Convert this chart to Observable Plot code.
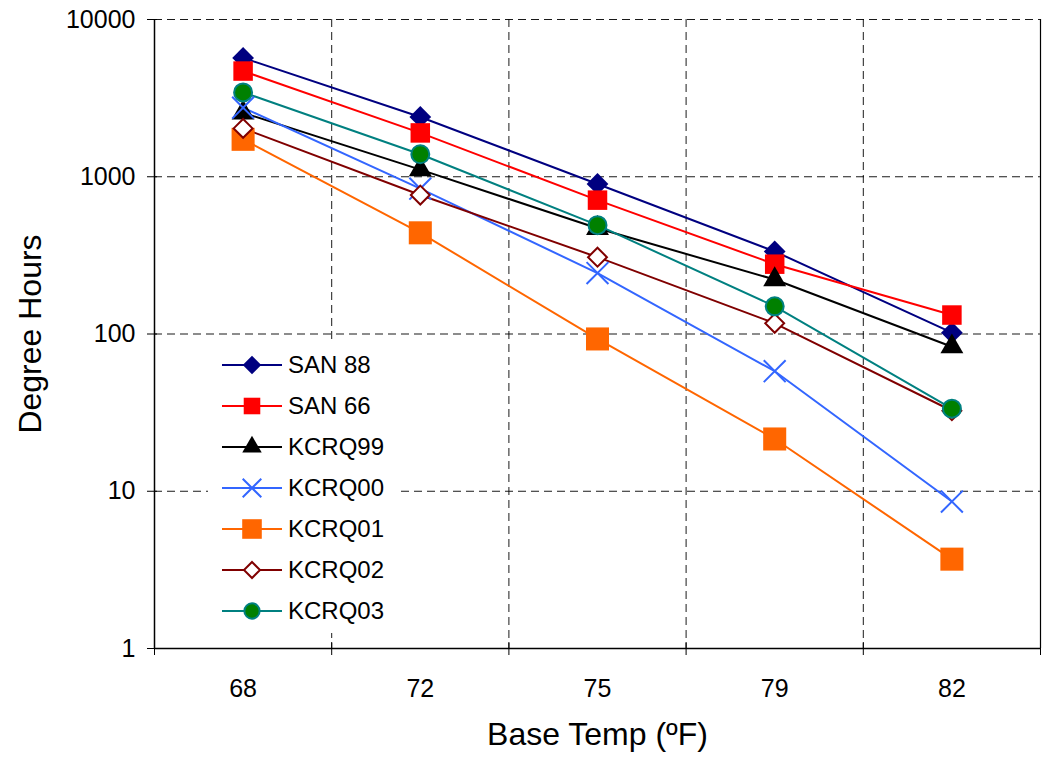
<!DOCTYPE html>
<html>
<head>
<meta charset="utf-8">
<script src="https://cdn.jsdelivr.net/npm/d3@7"></script>
<script src="https://cdn.jsdelivr.net/npm/@observablehq/plot@0.6"></script>
<style>
  html, body { margin: 0; padding: 0; background: #fff; }
  #wrap { position: relative; width: 1044px; height: 757px; font-family: "Liberation Sans", Arial, sans-serif; }
  #legend { position: absolute; left: 0; top: 0; }
</style>
</head>
<body>
<div id="wrap"></div>
<script>
const temps = ["68", "72", "75", "79", "82"];
const yTicks = [1, 10, 100, 1000, 10000];
const seriesNames = ["SAN 88", "SAN 66", "KCRQ99", "KCRQ00", "KCRQ01", "KCRQ02", "KCRQ03"];
const san88  = [5700, 2400, 900, 335, 102];
const san66  = [4700, 1900, 710, 278, 132];
const kcrq99 = [2550, 1110, 470, 222, 83];
const kcrq00 = [2750, 840, 244, 58, 8.6];
const kcrq01 = [1730, 440, 93, 21.5, 3.7];
const kcrq02 = [2030, 765, 308, 117, 32.5];
const kcrq03 = [3440, 1390, 492, 150, 33.5];
const seriesValues = [san88, san66, kcrq99, kcrq00, kcrq01, kcrq02, kcrq03];

const styles = [
  {line: "#000080", symbol: "diamond2", r: 9.8, fill: "#000080", stroke: "none", sw: 0},
  {line: "#FF0000", symbol: "square",   r: 11,  fill: "#FF0000", stroke: "none", sw: 0},
  {line: "#000000", symbol: "triangle", r: 8.5, fill: "#000000", stroke: "none", sw: 0},
  {line: "#3366FF", symbol: "times",    r: 10,  fill: "none",    stroke: "#3366FF", sw: 2},
  {line: "#FF6600", symbol: "square",   r: 13,  fill: "#FF6600", stroke: "none", sw: 0},
  {line: "#800000", symbol: "diamond2", r: 8.5, fill: "#FFFFFF", stroke: "#800000", sw: 2},
  {line: "#008080", symbol: "circle",   r: 9,   fill: "#008000", stroke: "#008080", sw: 2}
];

const rows = seriesNames.map((name, s) => seriesValues[s].map((v, i) => ({name, i, v})));

const boundaries = d3.range(temps.length + 1).map(i => i - 0.5);
const inner = boundaries.slice(1, -1);

const marks = [
  Plot.gridY(yTicks.slice(1), {stroke: "#000", strokeOpacity: 0.9, strokeDasharray: "8,5", strokeWidth: 1}),
  Plot.gridX(inner, {stroke: "#000", strokeOpacity: 0.9, strokeDasharray: "8,5", strokeWidth: 1}),
  Plot.ruleX([boundaries[boundaries.length - 1]], {stroke: "#000", strokeWidth: 1.2}),
  Plot.ruleX([boundaries[0]], {stroke: "#000", strokeWidth: 1.5}),
  Plot.ruleY([yTicks[0]], {stroke: "#000", strokeWidth: 1.5}),
  Plot.axisY({ticks: yTicks, tickSize: 10, dx: 3, tickFormat: () => "", stroke: "#000", label: null}),
  Plot.axisY({ticks: yTicks, tickSize: 0, tickPadding: 19, tickFormat: d => String(d), fontSize: 25, fill: "#000", label: null}),
  Plot.axisX({ticks: boundaries, tickSize: 13, dy: -6, tickFormat: () => "", stroke: "#000", label: null}),
  Plot.axisX({ticks: d3.range(temps.length), tickSize: 0, tickPadding: 31, tickFormat: i => temps[i], fontSize: 25, fill: "#000", label: null})
];

rows.forEach((data, s) => {
  const st = styles[s];
  marks.push(Plot.line(data, {x: "i", y: "v", stroke: st.line, strokeWidth: 2}));
});
rows.forEach((data, s) => {
  const st = styles[s];
  marks.push(Plot.dot(data, {x: "i", y: "v", symbol: st.symbol, r: st.r, fill: st.fill, stroke: st.stroke, strokeWidth: st.sw}));
});

marks.push(Plot.text(["Degree Hours"], {frameAnchor: "left", textAnchor: "middle", dx: -124, rotate: -90, fontSize: 32, fill: "#000"}));
marks.push(Plot.text(["Base Temp (ºF)"], {frameAnchor: "bottom", dy: 96, fontSize: 32, fill: "#000"}));

const chart = Plot.plot({
  width: 1044,
  height: 757,
  marginLeft: 154,
  marginRight: 4,
  marginTop: 19,
  marginBottom: 109,
  style: {fontFamily: "'Liberation Sans', Arial, sans-serif", background: "#fff", color: "#000"},
  x: {type: "linear", domain: [boundaries[0], boundaries[boundaries.length - 1]], axis: null},
  y: {type: "log", domain: [yTicks[0], yTicks[yTicks.length - 1]], axis: null},
  marks
});
const wrap = document.getElementById("wrap");
wrap.appendChild(chart);

// Legend overlay (box inside the plot area)
const lg = d3.select(wrap).append("svg").attr("id", "legend").attr("width", 1044).attr("height", 757);
const box = {x: 208, y: 343, w: 190, h: 290};
lg.append("rect").attr("x", box.x).attr("y", box.y).attr("width", box.w).attr("height", box.h).attr("fill", "#fff");
const sym = {diamond2: d3.symbolDiamond2, square: d3.symbolSquare, triangle: d3.symbolTriangle, times: d3.symbolTimes, circle: d3.symbolCircle};
seriesNames.forEach((name, s) => {
  const st = styles[s];
  const g = lg.append("g").attr("transform", `translate(0,${box.y + 22 + s * 41})`);
  g.append("line").attr("x1", box.x + 14).attr("x2", box.x + 74).attr("y1", 0).attr("y2", 0).attr("stroke", st.line).attr("stroke-width", 2);
  const k = 0.85;
  g.append("path")
    .attr("transform", `translate(${box.x + 44},0)`)
    .attr("d", d3.symbol(sym[st.symbol], Math.PI * (st.r * k) * (st.r * k))())
    .attr("fill", st.fill).attr("stroke", st.stroke).attr("stroke-width", st.sw);
  g.append("text").attr("x", box.x + 80).attr("y", 0).attr("dy", "0.35em")
    .attr("font-size", 24).attr("font-family", "'Liberation Sans', Arial, sans-serif").attr("fill", "#000").text(name);
});
</script>
</body>
</html>
